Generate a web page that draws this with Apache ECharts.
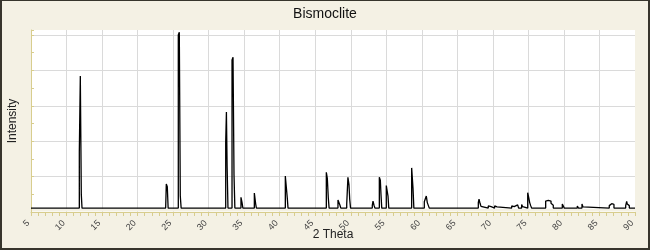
<!DOCTYPE html>
<html><head><meta charset="utf-8">
<script src="https://cdn.jsdelivr.net/npm/echarts@6/dist/echarts.min.js"></script>
<style>html,body{margin:0;padding:0;background:#f4f1e4}#c{width:650px;height:250px}</style>
</head><body><div id="c"></div>
<script>
const chartTitle = 'Bismoclite';
const xAxisName = '2 Theta';
const yAxisName = 'Intensity';
const xTickValues = [5,10,15,20,25,30,35,40,45,50,55,60,65,70,75,80,85,90];
const yTickValues = [0,20,40,60,80,100];
// step pattern: each point gives the level that holds until the next 2θ value
const twoTheta = [
  5.00, 11.80, 11.94, 12.08, 12.18,
  23.95, 24.04, 24.18, 24.30,
  25.73, 25.87, 26.01, 26.13,
  32.40, 32.50, 32.60, 32.72,
  33.29, 33.43, 33.57, 33.69,
  34.55, 34.70, 34.82,
  36.43, 36.62, 36.72,
  40.79, 40.93, 41.07, 41.17,
  43.42, 43.52,
  46.56, 46.70, 46.84, 46.95,
  48.20, 48.34, 48.48, 48.60,
  49.43, 49.60, 49.75, 49.85, 49.97,
  53.03, 53.13, 53.27, 53.40,
  54.02, 54.16, 54.25, 54.36,
  55.00, 55.14, 55.24, 55.35,
  58.57, 58.76, 58.88,
  60.35, 60.49, 60.63, 60.77, 60.91, 61.05,
  63.04, 63.14,
  67.95, 68.05, 68.19, 68.33, 68.45,
  69.35, 69.60, 69.75,
  70.25, 70.44, 70.58,
  72.65, 72.87, 73.00,
  73.25, 73.49, 73.62,
  74.05, 74.19, 74.30,
  74.90, 75.04, 75.18, 75.32, 75.45,
  77.43, 77.62, 77.80, 78.00, 78.18, 78.36, 78.50,
  79.77, 79.91, 80.05,
  81.88, 82.05,
  82.54, 82.68, 82.80,
  86.38, 86.58, 86.72, 86.86, 87.04,
  88.69, 88.83, 88.91, 89.06, 89.20,
  90.00
];
const intensity = [
  2.2, 33.9, 76.8, 9.8, 2.2,
  2.6, 15.8, 14.3, 2.2,
  100.0, 101.5, 9.0, 2.2,
  39.4, 56.5, 25.6, 2.2,
  85.9, 87.4, 20.9, 2.2,
  8.3, 5.3, 2.2,
  10.7, 4.5, 2.2,
  20.3, 20.0, 7.7, 2.2,
  2.8, 2.2,
  22.4, 19.0, 7.9, 2.2,
  6.8, 6.2, 3.8, 2.2,
  4.3, 19.6, 15.3, 7.3, 2.2,
  3.8, 6.2, 3.8, 2.2,
  19.6, 18.0, 10.2, 2.2,
  14.9, 15.8, 9.0, 2.2,
  24.9, 13.4, 2.2,
  5.8, 6.2, 9.0, 5.3, 4.3, 2.2,
  2.8, 2.2,
  5.3, 7.2, 4.9, 3.2, 2.2,
  3.4, 3.0, 2.2,
  3.4, 2.9, 2.2,
  3.4, 3.0, 2.2,
  4.0, 3.6, 2.2,
  4.3, 3.0, 2.2,
  10.9, 8.3, 5.3, 3.6, 2.2,
  6.2, 6.6, 5.8, 6.2, 4.9, 3.8, 2.2,
  4.5, 3.6, 2.2,
  3.4, 2.2,
  4.5, 2.9, 2.2,
  3.6, 4.7, 5.6, 4.3, 2.2,
  3.6, 6.0, 4.5, 3.6, 2.2,
  2.2
];
const yTop = 102.8;

const font = "'Liberation Sans', Arial, sans-serif";
const axisYellow = '#d8cd8e';
const chart = echarts.init(document.getElementById('c'), null, {renderer: 'canvas'});
chart.setOption({
  animation: false,
  backgroundColor: '#f4f1e4',
  title: {
    text: chartTitle, left: 'center', top: 2,
    textStyle: {fontFamily: font, fontSize: 14, fontWeight: 'normal', color: '#111'}
  },
  grid: {left: 31, right: 15, top: 30, bottom: 38, containLabel: false, outerBoundsMode: 'none',
         show: true, backgroundColor: '#ffffff', borderWidth: 0},
  xAxis: {
    type: 'value', min: xTickValues[0], max: xTickValues[xTickValues.length - 1],
    interval: xTickValues[1] - xTickValues[0],
    name: xAxisName, nameLocation: 'middle', nameGap: 17, nameMoveOverlap: false,
    nameTextStyle: {fontFamily: font, fontSize: 12, color: '#222'},
    axisLine: {show: true, lineStyle: {color: axisYellow, width: 1}},
    axisTick: {show: true, inside: false, length: 4, lineStyle: {color: axisYellow}},
    minorTick: {show: true, splitNumber: 5, length: 4, lineStyle: {color: axisYellow}},
    axisLabel: {rotate: 45, fontFamily: font, fontSize: 9, color: '#444', margin: 7, padding: [0, 4, 0, 0]},
    splitLine: {show: true, showMinLine: false, showMaxLine: false, lineStyle: {color: '#dadada', width: 1}}
  },
  yAxis: {
    type: 'value', min: yTickValues[0], max: yTop,
    interval: yTickValues[1] - yTickValues[0],
    name: yAxisName, nameLocation: 'middle', nameGap: 12, nameMoveOverlap: false,
    nameTextStyle: {fontFamily: font, fontSize: 12, color: '#222'},
    axisLine: {show: true, lineStyle: {color: axisYellow, width: 1}},
    axisTick: {show: true, inside: true, length: 3, lineStyle: {color: axisYellow}},
    minorTick: {show: true, splitNumber: 2, length: 3, lineStyle: {color: axisYellow}},
    axisLabel: {show: false},
    splitLine: {show: true, showMinLine: false, showMaxLine: false, lineStyle: {color: '#dadada', width: 1}}
  },
  graphic: [
    {type: 'rect', z: 1, shape: {x: 32, y: 208.8, width: 603, height: 2.8}, style: {fill: '#f4f1e4'}, silent: true},
    {type: 'rect', z: 100, shape: {x: 0, y: 0, width: 650, height: 1}, style: {fill: '#37352c'}, silent: true},
    {type: 'rect', z: 100, shape: {x: 0, y: 0, width: 2, height: 250}, style: {fill: '#37352c'}, silent: true},
    {type: 'rect', z: 100, shape: {x: 648, y: 0, width: 2, height: 250}, style: {fill: '#37352c'}, silent: true},
    {type: 'rect', z: 100, shape: {x: 0, y: 248, width: 650, height: 2}, style: {fill: '#37352c'}, silent: true}
  ],
  series: [{
    type: 'line', step: 'end', symbol: 'none', z: 3,
    data: twoTheta.map((t, i) => [t, intensity[i]]),
    lineStyle: {color: '#000', width: 1.3}
  }]
});
</script></body></html>
